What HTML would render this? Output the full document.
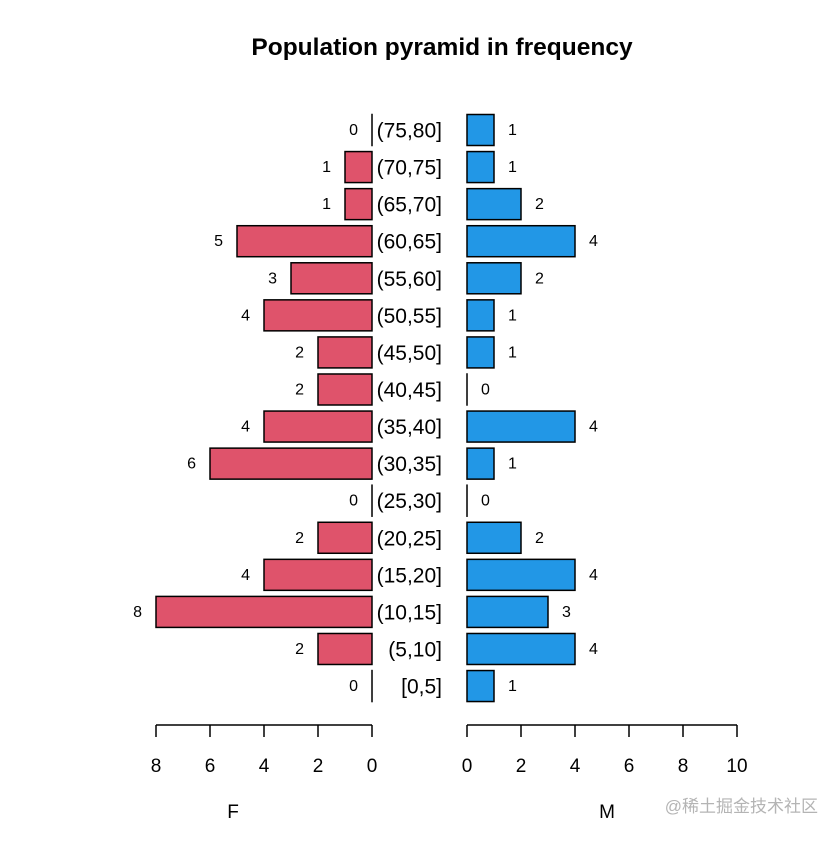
<!DOCTYPE html>
<html><head><meta charset="utf-8"><style>
body{margin:0;background:#fff}
svg text{font-family:"Liberation Sans","Noto Sans CJK SC",sans-serif}
</style></head><body>
<svg id="c" width="840" height="840" xmlns="http://www.w3.org/2000/svg">
<text x="442" y="55" text-anchor="middle" font-size="24.5" font-weight="bold">Population pyramid in frequency</text>
<text x="233" y="818" text-anchor="middle" font-size="19">F</text>
<text x="607" y="818" text-anchor="middle" font-size="19">M</text>
<text x="818" y="812" text-anchor="end" font-size="17" fill="#b4b4b4">@稀土掘金技术社区</text>
<g id="g"></g>
</svg>
<script>
const ageGroups=["(75,80]","(70,75]","(65,70]","(60,65]","(55,60]","(50,55]","(45,50]","(40,45]","(35,40]","(30,35]","(25,30]","(20,25]","(15,20]","(10,15]","(5,10]","[0,5]"];
const female=[0,1,1,5,3,4,2,2,4,6,0,2,4,8,2,0];
const male=[1,1,2,4,2,1,1,0,4,1,0,2,4,3,4,1];
const leftTicks=[0,2,4,6,8];
const rightTicks=[0,2,4,6,8,10];
const NS="http://www.w3.org/2000/svg";
const g=document.getElementById('g');
const U=27;
const xL=v=>372-v*U, xR=v=>467+v*U;
const yC=i=>130+i*37.07;
const BH=31;
function mk(t,a){const e=document.createElementNS(NS,t);for(const k in a)e.setAttribute(k,a[k]);g.appendChild(e);return e;}
ageGroups.forEach((lab,i)=>{
  const y=yC(i);
  const f=female[i], m=male[i];
  let r=mk('rect',{x:xL(f),y:y-BH/2,width:Math.max(f*U,0.01),height:BH,fill:'#DF536B',stroke:'#000','stroke-width':1.5});
  
  
  r=mk('rect',{x:xR(0),y:y-BH/2,width:Math.max(m*U,0.01),height:BH,fill:'#2297E6',stroke:'#000','stroke-width':1.5});
  
  
  let t=mk('text',{x:xL(f)-14,y:y+5,'text-anchor':'end','font-size':16});t.textContent=f;
  
  
  t=mk('text',{x:xR(m)+14,y:y+5,'text-anchor':'start','font-size':16});t.textContent=m;
  
  
  t=mk('text',{x:442,y:y+7.5,'text-anchor':'end','font-size':21});t.textContent=lab;
  
  
});
let a=mk('line',{x1:xL(8),x2:xL(0),y1:725,y2:725,stroke:'#000','stroke-width':1.5});


a=mk('line',{x1:xR(0),x2:xR(10),y1:725,y2:725,stroke:'#000','stroke-width':1.5});


leftTicks.forEach(v=>{
  const l=mk('line',{x1:xL(v),x2:xL(v),y1:725,y2:737,stroke:'#000','stroke-width':1.5});
  
  
  const t=mk('text',{x:xL(v),y:772,'text-anchor':'middle','font-size':19});t.textContent=v;
  
  
});
rightTicks.forEach(v=>{
  const l=mk('line',{x1:xR(v),x2:xR(v),y1:725,y2:737,stroke:'#000','stroke-width':1.5});
  
  
  const t=mk('text',{x:xR(v),y:772,'text-anchor':'middle','font-size':19});t.textContent=v;
  
  
});
</script>
</body></html>
